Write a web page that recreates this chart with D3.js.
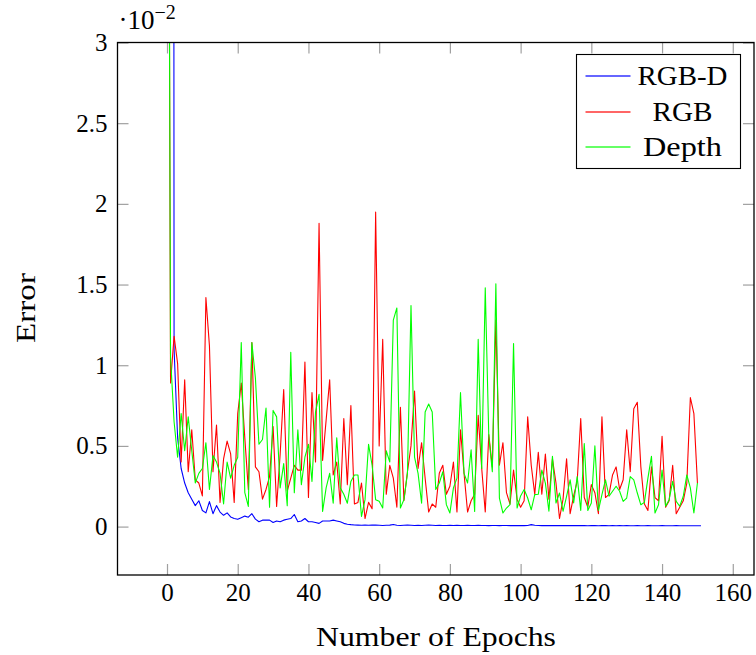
<!DOCTYPE html>
<html>
<head>
<meta charset="utf-8">
<script src="https://cdn.jsdelivr.net/npm/d3@7"></script>
<style>
  html, body { margin: 0; padding: 0; background: #fff; }
  svg { display: block; font-family: "Liberation Serif", "DejaVu Serif", serif; }
</style>
</head>
<body>
<svg id="chart" width="756" height="655"></svg>
<script>
// Training error per epoch (values in units of 1e-2)
const seriesNames = ["RGB-D", "RGB", "Depth"];
const seriesColors = ["#0000ff", "#ff0000", "#00ff00"];

// RGB-D: epochs 1..151
const rgbdStart = 1;
const rgbd = [
  40, 1.1, 0.55, 0.36, 0.27, 0.21, 0.17, 0.13, 0.16, 0.10,
  0.085, 0.155, 0.08, 0.13, 0.09, 0.07, 0.085, 0.06, 0.05, 0.045,
  0.055, 0.065, 0.058, 0.08, 0.046, 0.03, 0.04, 0.04, 0.04, 0.025,
  0.035, 0.03, 0.04, 0.045, 0.05, 0.075, 0.03, 0.035, 0.05, 0.03,
  0.03, 0.025, 0.02, 0.035, 0.035, 0.035, 0.04, 0.035, 0.03, 0.02,
  0.015, 0.012, 0.010, 0.009, 0.008, 0.009, 0.008, 0.010, 0.009, 0.008,
  0.007, 0.008, 0.009, 0.013, 0.008, 0.007, 0.008, 0.009, 0.008, 0.007,
  0.008, 0.007, 0.008, 0.009, 0.008, 0.007, 0.008, 0.007, 0.007, 0.008,
  0.007, 0.008, 0.007, 0.007, 0.008, 0.007, 0.007, 0.008, 0.007, 0.007,
  0.006, 0.007, 0.007, 0.006, 0.007, 0.007, 0.006, 0.007, 0.006, 0.007,
  0.006, 0.007, 0.012, 0.008, 0.007, 0.006, 0.006, 0.007, 0.006, 0.006,
  0.007, 0.006, 0.006, 0.006, 0.007, 0.006, 0.006, 0.006, 0.005, 0.006,
  0.006, 0.005, 0.006, 0.006, 0.005, 0.006, 0.005, 0.006, 0.005, 0.006,
  0.005, 0.005, 0.006, 0.005, 0.005, 0.006, 0.005, 0.005, 0.005, 0.006,
  0.005, 0.005, 0.005, 0.006, 0.005, 0.005, 0.005, 0.005, 0.005, 0.005,
  0.005
];

// RGB: epochs 0..150
const rgbStart = 0;
const rgb = [
  8, 0.89, 1.18, 1.01, 0.40, 0.91, 0.34, 0.60, 0.29, 0.27,
  0.19, 1.42, 1.12, 0.34, 0.63, 0.15, 0.42, 0.53, 0.45, 0.15,
  0.70, 0.89, 0.55, 0.23, 1.14, 0.37, 0.34, 0.17, 0.23, 0.31,
  0.62, 0.125, 0.45, 0.85, 0.22, 0.30, 0.38, 0.35, 0.35, 1.02,
  0.18, 0.83, 0.40, 1.88, 0.41, 0.66, 0.91, 0.32, 0.40, 0.14,
  0.67, 0.26, 0.75, 0.14, 0.15, 0.27, 0.05, 0.15, 0.11, 1.95,
  0.50, 1.16, 0.20, 0.38, 0.30, 0.12, 0.74, 0.16, 0.34, 0.50,
  0.84, 0.36, 0.52, 0.30, 0.09, 0.14, 0.12, 0.33, 0.38, 0.20,
  0.25, 0.40, 0.09, 0.60, 0.33, 0.09, 0.16, 0.20, 0.69, 0.36,
  0.09, 0.57, 0.37, 1.28, 0.38, 0.52, 0.21, 0.14, 0.35, 0.17,
  0.12, 0.16, 0.68, 0.38, 0.20, 0.46, 0.20, 0.45, 0.17, 0.42,
  0.27, 0.05, 0.17, 0.42, 0.08, 0.19, 0.28, 0.67, 0.18, 0.12,
  0.26, 0.21, 0.08, 0.68, 0.18, 0.20, 0.32, 0.37, 0.23, 0.29,
  0.60, 0.34, 0.73, 0.77, 0.37, 0.14, 0.10, 0.37, 0.18, 0.16,
  0.56, 0.12, 0.16, 0.38, 0.08, 0.12, 0.16, 0.27, 0.80, 0.70,
  0.27
];

// Depth: epochs 0..150
const depthStart = 0;
const depth = [
  8, 1.05, 0.65, 0.43, 0.70, 0.47, 0.68, 0.47, 0.27, 0.33,
  0.36, 0.52, 0.23, 0.44, 0.40, 0.33, 0.14, 0.40, 0.30, 0.38,
  0.43, 1.14, 0.21, 0.125, 1.14, 0.92, 0.51, 0.54, 0.735, 0.12,
  0.72, 0.68, 0.24, 0.39, 0.13, 1.08, 0.21, 0.60, 0.26, 0.43,
  0.51, 0.28, 0.71, 0.82, 0.094, 0.24, 0.33, 0.145, 0.55, 0.24,
  0.20, 0.145, 0.28, 0.32, 0.32, 0.063, 0.167, 0.51, 0.38, 0.167,
  0.157, 0.115, 0.47, 0.40, 1.28, 1.355, 0.115, 0.167, 0.33, 1.37,
  0.43, 0.33, 0.145, 0.71, 0.76, 0.71, 0.23, 0.27, 0.34, 0.136,
  0.084, 0.24, 0.30, 0.83, 0.33, 0.27, 0.476, 0.094, 1.16, 0.36,
  1.48, 0.56, 0.34, 1.505, 0.177, 0.084, 0.115, 0.136, 1.134, 0.115,
  0.19, 0.23, 0.177, 0.104, 0.198, 0.20, 0.35, 0.27, 0.095, 0.435,
  0.146, 0.208, 0.095, 0.188, 0.29, 0.146, 0.31, 0.10, 0.514, 0.10,
  0.146, 0.50, 0.10, 0.198, 0.29, 0.188, 0.219, 0.25, 0.219, 0.156,
  0.177, 0.31, 0.29, 0.208, 0.135, 0.15, 0.30, 0.435, 0.084, 0.135,
  0.35, 0.126, 0.167, 0.28, 0.156, 0.126, 0.188, 0.32, 0.24, 0.084,
  0.27
];

const xTicks = [0, 20, 40, 60, 80, 100, 120, 140, 160];
const yTicks = [0, 0.5, 1, 1.5, 2, 2.5, 3];
const xDomain = [-14, 166];
const yDomain = [-0.3, 3];

const xLabel = "Number of Epochs";
const yLabel = "Error";

// ---- layout ----
const svg = d3.select("#chart");
const plot = { left: 117.5, right: 754, top: 42.5, bottom: 575 };

const x = d3.scaleLinear().domain(xDomain).range([plot.left, plot.right]);
const y = d3.scaleLinear().domain(yDomain).range([plot.bottom, plot.top]);

svg.append("defs").append("clipPath").attr("id", "plotClip")
  .append("rect")
  .attr("x", plot.left).attr("y", plot.top)
  .attr("width", plot.right - plot.left).attr("height", plot.bottom - plot.top);

const tickLen = 11;
const tickColor = "#a0a0a0";

function styleAxis(g) {
  g.select(".domain").remove();
  g.selectAll(".tick line").attr("stroke", tickColor).attr("stroke-width", 1.2);
  g.selectAll(".tick text").attr("fill", "#000").attr("font-size", 25)
    .attr("font-family", "Liberation Serif, DejaVu Serif, serif");
}

// bottom axis (ticks point inward)
svg.append("g")
  .attr("transform", `translate(0,${plot.bottom})`)
  .call(d3.axisBottom(x).tickValues(xTicks).tickSizeInner(-tickLen).tickSizeOuter(0).tickPadding(8)
    .tickFormat(d3.format("d")))
  .call(styleAxis);

// top axis mirrored ticks
svg.append("g")
  .attr("transform", `translate(0,${plot.top})`)
  .call(d3.axisTop(x).tickValues(xTicks).tickSizeInner(-tickLen).tickSizeOuter(0).tickFormat(""))
  .call(styleAxis);

// left axis
svg.append("g")
  .attr("transform", `translate(${plot.left},0)`)
  .call(d3.axisLeft(y).tickValues(yTicks).tickSizeInner(-tickLen).tickSizeOuter(0).tickPadding(10)
    .tickFormat(d => String(d)))
  .call(styleAxis);

// right axis mirrored ticks
svg.append("g")
  .attr("transform", `translate(${plot.right},0)`)
  .call(d3.axisRight(y).tickValues(yTicks).tickSizeInner(-tickLen).tickSizeOuter(0).tickFormat(""))
  .call(styleAxis);

// series lines
const line = d3.line().x(d => x(d[0])).y(d => y(d[1]));
const seriesData = [
  rgbd.map((v, i) => [rgbdStart + i, v]),
  rgb.map((v, i) => [rgbStart + i, v]),
  depth.map((v, i) => [depthStart + i, v])
];

const linesG = svg.append("g").attr("clip-path", "url(#plotClip)");
seriesData.forEach((pts, i) => {
  linesG.append("path")
    .datum(pts)
    .attr("fill", "none")
    .attr("stroke", seriesColors[i])
    .attr("stroke-width", 1.1)
    .attr("stroke-linejoin", "round")
    .attr("d", line);
});

// frame
svg.append("rect")
  .attr("x", plot.left).attr("y", plot.top)
  .attr("width", plot.right - plot.left).attr("height", plot.bottom - plot.top)
  .attr("fill", "none").attr("stroke", "#000").attr("stroke-width", 1.3);

// scale factor label
const sf = svg.append("text")
  .attr("x", plot.left + 1).attr("y", 29)
  .attr("font-size", 27).attr("fill", "#000");
sf.append("tspan").text("\u00B710");
sf.append("tspan").attr("dy", -10).attr("font-size", 20).text("\u22122");

// axis titles
svg.append("text")
  .attr("x", 436).attr("y", 646)
  .attr("text-anchor", "middle").attr("font-size", 28).attr("fill", "#000")
  .attr("textLength", 240).attr("lengthAdjust", "spacingAndGlyphs")
  .text(xLabel);

svg.append("text")
  .attr("transform", `translate(35,308) rotate(-90)`)
  .attr("text-anchor", "middle").attr("font-size", 28).attr("fill", "#000")
  .attr("textLength", 70).attr("lengthAdjust", "spacingAndGlyphs")
  .text(yLabel);

// legend
const legend = { x: 576.5, y: 54.5, w: 164, h: 114 };
svg.append("rect")
  .attr("x", legend.x).attr("y", legend.y).attr("width", legend.w).attr("height", legend.h)
  .attr("fill", "#fff").attr("stroke", "#000").attr("stroke-width", 1.1);

const rowY = [76, 112, 147];
const legendTextLen = [90, 60, 79];
seriesNames.forEach((name, i) => {
  svg.append("rect")
    .attr("x", legend.x + 9).attr("y", rowY[i] - 0.8)
    .attr("width", 45).attr("height", 1.6)
    .attr("fill", seriesColors[i]).attr("fill-opacity", 0.75);
  svg.append("text")
    .attr("x", legend.x + 106).attr("y", rowY[i] + 9)
    .attr("text-anchor", "middle").attr("font-size", 28).attr("fill", "#000")
    .attr("textLength", legendTextLen[i]).attr("lengthAdjust", "spacingAndGlyphs")
    .text(name);
});
</script>
</body>
</html>
